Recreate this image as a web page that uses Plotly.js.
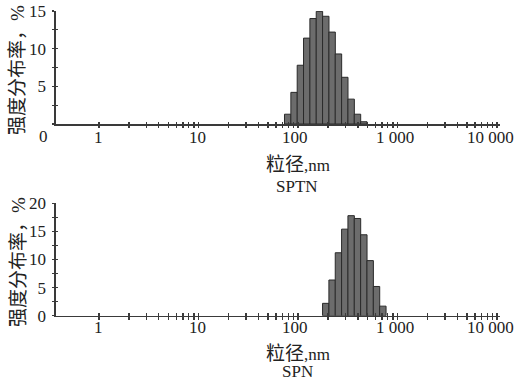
<!DOCTYPE html>
<html><head><meta charset="utf-8">
<script src="https://cdn.plot.ly/plotly-3.0.1.min.js"></script>
<style>html,body{margin:0;padding:0;background:#fff}#c{width:519px;height:381px}</style>
</head><body><div id="c"></div>
<script>
// Data
const sptnSize = [78.8, 91.3, 105.7, 122.4, 141.8, 164.2, 190.1, 220.2, 255.0, 295.3, 342.0, 396.1, 458.7];
const sptnIntensity = [1.3, 4.2, 7.8, 11.4, 14.0, 14.95, 14.3, 12.2, 9.3, 6.2, 3.3, 1.3, 0.3];
const spnSize = [190.1, 220.2, 255.0, 295.3, 342.0, 396.1, 458.7, 531.2, 615.1, 712.4];
const spnIntensity = [2.2, 6.35, 11.2, 15.4, 17.8, 17.3, 14.4, 9.8, 5.2, 1.7];
const decades = [1, 10, 100, 1000, 10000];
const decadeLabels = ['1', '10', '100', '1 000', '10 000'];
const topYTicks = [0, 2.5, 5, 7.5, 10, 12.5, 15];
const topYLabels = ['', '', '5', '', '10', '', '15'];
const botYTicks = [0, 2.5, 5, 7.5, 10, 12.5, 15, 17.5, 20];
const botYLabels = ['0', '', '5', '', '10', '', '15', '', '20'];
const xTitle = '<span style="font-size:19px">粒径</span>,nm';
const yTitle = '强度分布率，%';
const names = ['SPTN', 'SPN'];

const W = 519, H = 381;
const fam = '"Liberation Serif","Times New Roman","Noto Sans CJK SC",serif';
const font = {family: fam, size: 17, color: '#222'};
const yFont = {family: fam, size: 19, color: '#222'};
const lc = '#3a3a3a';
const labelShift = [0, -1, -3, -3, -7]; // label placement offsets (px)

const tickvals = [];
decades.forEach((d, i) => {
  if (i < decades.length - 1) { for (let m = 1; m <= 9; m++) tickvals.push(Math.log10(m * d)); }
  else tickvals.push(Math.log10(d));
});

const xr = [-0.437, 4.03];
const xdom = [55.5 / W, 500 / W];
const topDom = [1 - 124 / H, 1 - 11 / H];
const botDom = [1 - 315.7 / H, 1 - 203.3 / H];

function xa(anchor, inside) {
  return {domain: xdom, range: xr, type: 'linear', anchor: anchor, tickmode: 'array', tickvals: tickvals,
    ticks: inside ? 'inside' : 'outside', ticklen: 2.5, tickwidth: 1.2, tickcolor: lc,
    showline: !inside, linecolor: lc, linewidth: 1.5, showgrid: false, zeroline: false,
    showticklabels: false, fixedrange: true};
}
function ya(anchor, dom, range, tv, tt, inside) {
  return {domain: dom, range: range, anchor: anchor, tickmode: 'array', tickvals: tv, ticktext: tt,
    ticks: inside ? 'inside' : 'outside', ticklen: 2.5, tickwidth: 1.2, tickcolor: lc,
    showline: !inside, linecolor: lc, linewidth: 1.5, showgrid: false, zeroline: false,
    showticklabels: !inside, tickfont: font, ticklabelstandoff: 2, fixedrange: true};
}

const barStyle = {color: '#6c6c6c', line: {color: '#2a2a2a', width: 1}};
const data = [
  {type: 'bar', x: sptnSize.map(Math.log10), y: sptnIntensity, xaxis: 'x', yaxis: 'y', marker: barStyle, width: 0.0645, hoverinfo: 'skip'},
  {type: 'bar', x: spnSize.map(Math.log10), y: spnIntensity, xaxis: 'x2', yaxis: 'y2', marker: barStyle, width: 0.0645, hoverinfo: 'skip'},
  {type: 'scatter', x: [null], y: [null], xaxis: 'x3', yaxis: 'y3', hoverinfo: 'skip'},
  {type: 'scatter', x: [null], y: [null], xaxis: 'x4', yaxis: 'y4', hoverinfo: 'skip'}
];

const annotations = [
  {text: '0', xref: 'paper', yref: 'paper', x: 43 / W, y: 1 - 137 / H, showarrow: false, font: font, xanchor: 'center', yanchor: 'middle'},
  {text: xTitle, xref: 'paper', yref: 'paper', x: 298 / W, y: 1 - 164 / H, showarrow: false, font: font, xanchor: 'center', yanchor: 'middle'},
  {text: names[0], xref: 'paper', yref: 'paper', x: 297 / W, y: 1 - 186 / H, showarrow: false, font: font, xanchor: 'center', yanchor: 'middle'},
  {text: xTitle, xref: 'paper', yref: 'paper', x: 298 / W, y: 1 - 353 / H, showarrow: false, font: font, xanchor: 'center', yanchor: 'middle'},
  {text: names[1], xref: 'paper', yref: 'paper', x: 297 / W, y: 1 - 371 / H, showarrow: false, font: font, xanchor: 'center', yanchor: 'middle'},
  {text: yTitle, xref: 'paper', yref: 'paper', x: 18 / W, y: 1 - 70 / H, showarrow: false, font: yFont, textangle: -90, xanchor: 'center', yanchor: 'middle'},
  {text: yTitle, xref: 'paper', yref: 'paper', x: 18 / W, y: 1 - 262 / H, showarrow: false, font: yFont, textangle: -90, xanchor: 'center', yanchor: 'middle'}
];
[['x', 137.5], ['x2', 327.5]].forEach(([ax, py]) => {
  decades.forEach((d, i) => annotations.push({text: decadeLabels[i], xref: ax, yref: 'paper', x: Math.log10(d),
    y: 1 - py / H, xshift: labelShift[i], showarrow: false, font: font, xanchor: 'center', yanchor: 'middle'}));
});

const layout = {
  width: W, height: H, margin: {l: 0, r: 0, t: 0, b: 0}, showlegend: false, bargap: 0,
  paper_bgcolor: '#fff', plot_bgcolor: 'rgba(0,0,0,0)', font: font,
  xaxis: xa('y', false), yaxis: ya('x', topDom, [0, 15], topYTicks, topYLabels, false),
  xaxis2: xa('y2', false), yaxis2: ya('x2', botDom, [0, 20], botYTicks, botYLabels, false),
  xaxis3: Object.assign(xa('y', true), {overlaying: 'x'}),
  yaxis3: Object.assign(ya('x', topDom, [0, 15], topYTicks, topYLabels, true), {overlaying: 'y'}),
  xaxis4: Object.assign(xa('y2', true), {overlaying: 'x2'}),
  yaxis4: Object.assign(ya('x2', botDom, [0, 20], botYTicks, botYLabels, true), {overlaying: 'y2'}),
  annotations: annotations
};
Plotly.newPlot('c', data, layout, {staticPlot: true, displayModeBar: false});
</script></body></html>
